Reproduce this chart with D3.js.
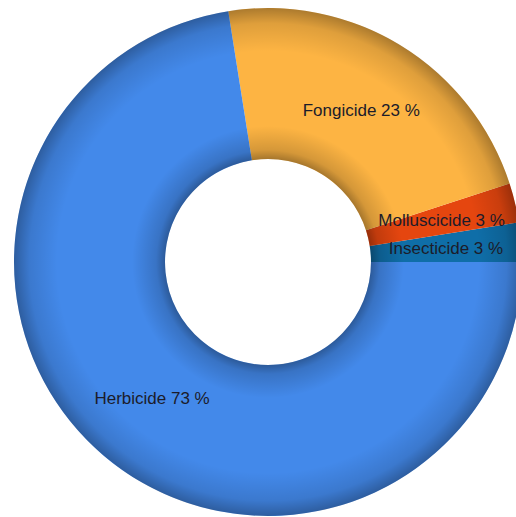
<!DOCTYPE html>
<html>
<head>
<meta charset="utf-8">
<script src="https://cdn.jsdelivr.net/npm/d3@7/dist/d3.min.js"></script>
<style>
  html, body { margin: 0; padding: 0; background: #fff; }
  svg { display: block; }
</style>
</head>
<body>
<svg id="chart" width="516" height="517"></svg>
<script>
// Share of pesticide types (percent)
const categories = ["Insecticide", "Molluscicide", "Fongicide", "Herbicide"];
const shares = [2.5, 2.5, 22.5, 72.5];
const colors = ["#0f6ea8", "#e5460f", "#fdb443", "#4389ea"];

const width = 516, height = 517;
const cx = 268, cy = 262;
const outerR = 254, innerR = 103;

const svg = d3.select("#chart");
const defs = svg.append("defs");

// Soft darkening at the inner and outer rims of the ring
const shade = defs.append("radialGradient")
  .attr("id", "rimShade")
  .attr("gradientUnits", "userSpaceOnUse")
  .attr("cx", 0).attr("cy", 0).attr("r", outerR)
  .attr("fx", 0).attr("fy", 0);
const f0 = innerR / outerR;
[
  [f0, 0.34],
  [f0 + 0.035, 0.16],
  [f0 + 0.13, 0.0],
  [0.83, 0.0],
  [0.94, 0.12],
  [1.0, 0.32]
].forEach(([o, a]) => {
  shade.append("stop").attr("offset", o).attr("stop-color", "#000").attr("stop-opacity", a);
});

const total = d3.sum(shares);
// slices run counter-clockwise from 3 o'clock
const pie = d3.pie()
  .sort(null)
  .value(d => d.value)
  .startAngle(Math.PI / 2)
  .endAngle(Math.PI / 2 - 2 * Math.PI);

const data = categories.map((c, i) => ({ name: c, value: shares[i], color: colors[i] }));
const arcs = pie(data);

const arc = d3.arc().innerRadius(innerR).outerRadius(outerR);

const g = svg.append("g").attr("transform", `translate(${cx},${cy})`);

g.selectAll("path.slice")
  .data(arcs)
  .join("path")
  .attr("class", "slice")
  .attr("d", arc)
  .attr("fill", d => d.data.color);

// rim shading overlay on the whole ring
g.append("path")
  .attr("d", d3.arc().innerRadius(innerR).outerRadius(outerR).startAngle(0).endAngle(2 * Math.PI)())
  .attr("fill", "url(#rimShade)");

g.selectAll("text.label")
  .data(arcs)
  .join("text")
  .attr("class", "label")
  .attr("transform", d => `translate(${arc.centroid(d)})`)
  .attr("text-anchor", "middle")
  .attr("dy", "0.35em")
  .attr("font-family", "'Liberation Sans', Arial, sans-serif")
  .attr("font-size", 17)
  .attr("fill", "#1c1c2a")
  .text(d => `${d.data.name} ${Math.round(d.data.value / total * 100)} %`);
</script>
</body>
</html>
